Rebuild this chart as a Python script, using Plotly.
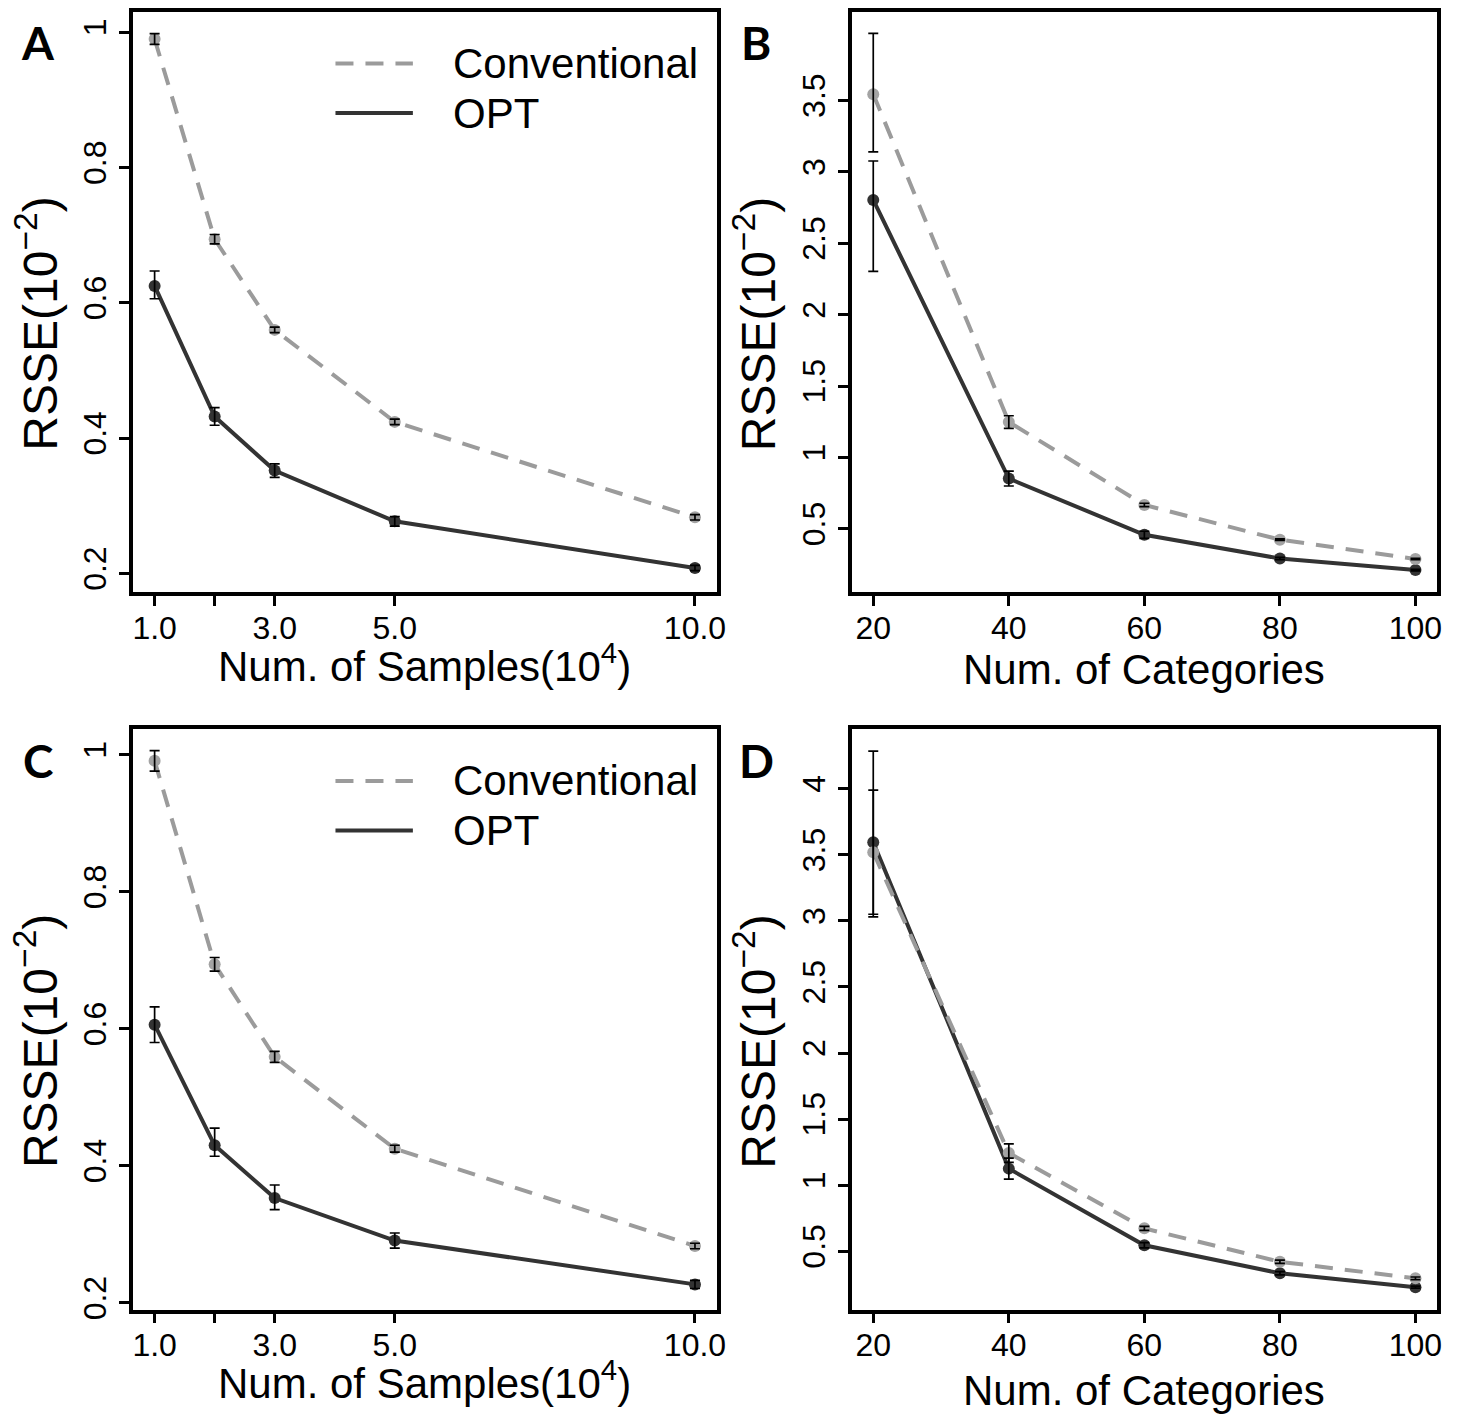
import plotly.graph_objects as go

W, H = 1466, 1416

# ---------------- data ----------------
samples = [1, 2, 3, 5, 10]
sample_ticks = [1, 2, 3, 5, 10]
sample_ticktext = ["1.0", "", "3.0", "5.0", "10.0"]
categories = [20, 40, 60, 80, 100]
category_ticks = [20, 40, 60, 80, 100]
category_ticktext = ["20", "40", "60", "80", "100"]

# Panel A
A_conv = [0.990, 0.694, 0.560, 0.424, 0.283]
A_conv_up = [0.008, 0.007, 0.004, 0.004, 0.004]
A_conv_dn = [0.008, 0.007, 0.004, 0.004, 0.004]
A_opt = [0.625, 0.432, 0.352, 0.277, 0.208]
A_opt_up = [0.022, 0.013, 0.010, 0.007, 0.004]
A_opt_dn = [0.019, 0.013, 0.010, 0.007, 0.004]

# Panel B
B_conv = [3.544, 1.248, 0.667, 0.424, 0.289]
B_conv_up = [0.426, 0.044, 0.012, 0.005, 0.005]
B_conv_dn = [0.404, 0.044, 0.012, 0.005, 0.005]
B_opt = [2.803, 0.852, 0.458, 0.292, 0.211]
B_opt_up = [0.273, 0.052, 0.025, 0.008, 0.006]
B_opt_dn = [0.500, 0.052, 0.025, 0.008, 0.006]

# Panel C
C_conv = [0.991, 0.694, 0.559, 0.425, 0.283]
C_conv_up = [0.015, 0.010, 0.008, 0.005, 0.004]
C_conv_dn = [0.015, 0.010, 0.008, 0.005, 0.004]
C_opt = [0.606, 0.430, 0.353, 0.291, 0.227]
C_opt_up = [0.026, 0.025, 0.019, 0.011, 0.006]
C_opt_dn = [0.026, 0.016, 0.017, 0.011, 0.006]

# Panel D
D_conv = [3.520, 1.243, 0.673, 0.420, 0.295]
D_conv_up = [0.470, 0.070, 0.015, 0.012, 0.010]
D_conv_dn = [0.470, 0.070, 0.015, 0.012, 0.010]
D_opt = [3.595, 1.125, 0.545, 0.333, 0.228]
D_opt_up = [0.690, 0.080, 0.020, 0.012, 0.008]
D_opt_dn = [0.565, 0.080, 0.020, 0.012, 0.008]

yt_A = [0.2, 0.4, 0.6, 0.8, 1.0]
yt_A_text = ["0.2", "0.4", "0.6", "0.8", "1"]
yt_B = [0.5, 1, 1.5, 2, 2.5, 3, 3.5]
yt_B_text = ["0.5", "1", "1.5", "2", "2.5", "3", "3.5"]
yt_D = [0.5, 1, 1.5, 2, 2.5, 3, 3.5, 4]
yt_D_text = ["0.5", "1", "1.5", "2", "2.5", "3", "3.5", "4"]

series_names = ["Conventional", "OPT"]

# ---------------- style ----------------
CONV_LINE = "#9b9b9b"
CONV_MARK = "#a3a3a3"
OPT_COLOR = "#333333"
FONT = "Liberation Sans, Arial, sans-serif"
DASH = "18px,12px"

def px_x(p):
    return p / W

def px_y(p):
    return 1 - p / H

panels = [
    dict(key="A", x=samples, conv=A_conv, cu=A_conv_up, cd=A_conv_dn,
         opt=A_opt, ou=A_opt_up, od=A_opt_dn,
         xdom=(133, 721), ydom=(12, 597), xr=[0.64, 10.36], yr=[0.172, 1.030],
         xt=sample_ticks, xtt=sample_ticktext, yt=yt_A, ytt=yt_A_text,
         xtitle="Num. of Samples(10<sup>4</sup>)", xtoff=71, legend=True),
    dict(key="B", x=categories, conv=B_conv, cu=B_conv_up, cd=B_conv_dn,
         opt=B_opt, ou=B_opt_up, od=B_opt_dn,
         xdom=(857, 1447), ydom=(12, 597), xr=[16.8, 103.2], yr=[0.055, 4.12],
         xt=category_ticks, xtt=category_ticktext, yt=yt_B, ytt=yt_B_text,
         xtitle="Num. of Categories", xtoff=78, legend=False),
    dict(key="C", x=samples, conv=C_conv, cu=C_conv_up, cd=C_conv_dn,
         opt=C_opt, ou=C_opt_up, od=C_opt_dn,
         xdom=(133, 721), ydom=(735, 1320), xr=[0.64, 10.36], yr=[0.19, 1.037],
         xt=sample_ticks, xtt=sample_ticktext, yt=yt_A, ytt=yt_A_text,
         xtitle="Num. of Samples(10<sup>4</sup>)", xtoff=71, legend=True),
    dict(key="D", x=categories, conv=D_conv, cu=D_conv_up, cd=D_conv_dn,
         opt=D_opt, ou=D_opt_up, od=D_opt_dn,
         xdom=(857, 1447), ydom=(735, 1320), xr=[16.8, 103.2], yr=[0.057, 4.45],
         xt=category_ticks, xtt=category_ticktext, yt=yt_D, ytt=yt_D_text,
         xtitle="Num. of Categories", xtoff=81, legend=False),
]

fig = go.Figure()
layout = dict(
    width=W, height=H, margin=dict(l=0, r=0, t=0, b=0),
    paper_bgcolor="white", plot_bgcolor="white", showlegend=False,
    font=dict(family=FONT, color="black"),
)
annotations = []
shapes = []

for i, p in enumerate(panels):
    n = "" if i == 0 else str(i + 1)
    xa, ya = "x" + n, "y" + n
    # OPT line
    fig.add_trace(go.Scatter(x=p["x"], y=p["opt"], mode="lines+markers", name=series_names[1],
                             line=dict(color=OPT_COLOR, width=4),
                             marker=dict(color=OPT_COLOR, size=12),
                             xaxis=xa, yaxis=ya, hoverinfo="skip", cliponaxis=False))
    # Conventional line
    fig.add_trace(go.Scatter(x=p["x"], y=p["conv"], mode="lines+markers", name=series_names[0],
                             line=dict(color=CONV_LINE, width=4, dash=DASH),
                             marker=dict(color=CONV_MARK, size=12),
                             xaxis=xa, yaxis=ya, hoverinfo="skip", cliponaxis=False))
    # error bars (drawn on top)
    for yv, up, dn in ((p["opt"], p["ou"], p["od"]), (p["conv"], p["cu"], p["cd"])):
        fig.add_trace(go.Scatter(x=p["x"], y=yv, mode="markers",
                                 marker=dict(size=1, color="rgba(0,0,0,0)"),
                                 error_y=dict(type="data", symmetric=False, array=up, arrayminus=dn,
                                              color="black", thickness=1.7, width=5),
                                 xaxis=xa, yaxis=ya, hoverinfo="skip", cliponaxis=False))
    axis_common = dict(showgrid=False, zeroline=False, showline=True, linecolor="black",
                       linewidth=3.5, mirror=True, ticks="outside", ticklen=10, tickwidth=3,
                       tickcolor="black", tickfont=dict(family=FONT, size=32, color="black"),
                       tickmode="array")
    layout["xaxis" + n] = dict(axis_common, domain=[px_x(p["xdom"][0]), px_x(p["xdom"][1])],
                               range=p["xr"], tickvals=p["xt"], ticktext=p["xtt"],
                               ticklabelstandoff=-6, anchor=ya)
    layout["yaxis" + n] = dict(axis_common, domain=[px_y(p["ydom"][1]), px_y(p["ydom"][0])],
                               range=p["yr"], tickvals=p["yt"], ticktext=p["ytt"],
                               tickangle=-90, anchor=xa)
    cx = (p["xdom"][0] + p["xdom"][1]) / 2
    cy = (p["ydom"][0] + p["ydom"][1]) / 2
    # x title
    annotations.append(dict(text=p["xtitle"], x=px_x(cx), y=px_y(p["ydom"][1] + p["xtoff"]),
                            xref="paper", yref="paper", showarrow=False,
                            xanchor="center", yanchor="middle",
                            font=dict(family=FONT, size=42, color="black")))
    # y title
    annotations.append(dict(text="RSSE(10<sup>\u22122</sup>)", x=px_x(p["xdom"][0] - 97),
                            y=px_y(cy + 22), xref="paper", yref="paper", showarrow=False,
                            textangle=-90, xanchor="center", yanchor="middle",
                            font=dict(family=FONT, size=48, color="black")))
    # panel letter
    annotations.append(dict(text="<b>" + p["key"] + "</b>", x=px_x(p["xdom"][0] - 96),
                            y=px_y(p["ydom"][0] + 31), xref="paper", yref="paper",
                            showarrow=False, xanchor="center", yanchor="middle",
                            font=dict(family="Lato, Open Sans, sans-serif", size=46, color="black")))
    if p["legend"]:
        ly1 = p["ydom"][0] + 52
        ly2 = p["ydom"][0] + 102
        for ly, col, dash, name in ((ly1, CONV_LINE, "dash", series_names[0]),
                                    (ly2, OPT_COLOR, "solid", series_names[1])):
            shapes.append(dict(type="line", xref="paper", yref="paper",
                               x0=px_x(p["xdom"][0] + 204), x1=px_x(p["xdom"][0] + 282),
                               y0=px_y(ly), y1=px_y(ly),
                               line=dict(color=col, width=4, dash=DASH if dash == "dash" else "solid")))
            annotations.append(dict(text=name, x=px_x(p["xdom"][0] + 320), y=px_y(ly),
                                    xref="paper", yref="paper", showarrow=False,
                                    xanchor="left", yanchor="middle",
                                    font=dict(family=FONT, size=42, color="black")))

layout["annotations"] = annotations
layout["shapes"] = shapes
fig.update_layout(**layout)
fig.write_html("out.html")
